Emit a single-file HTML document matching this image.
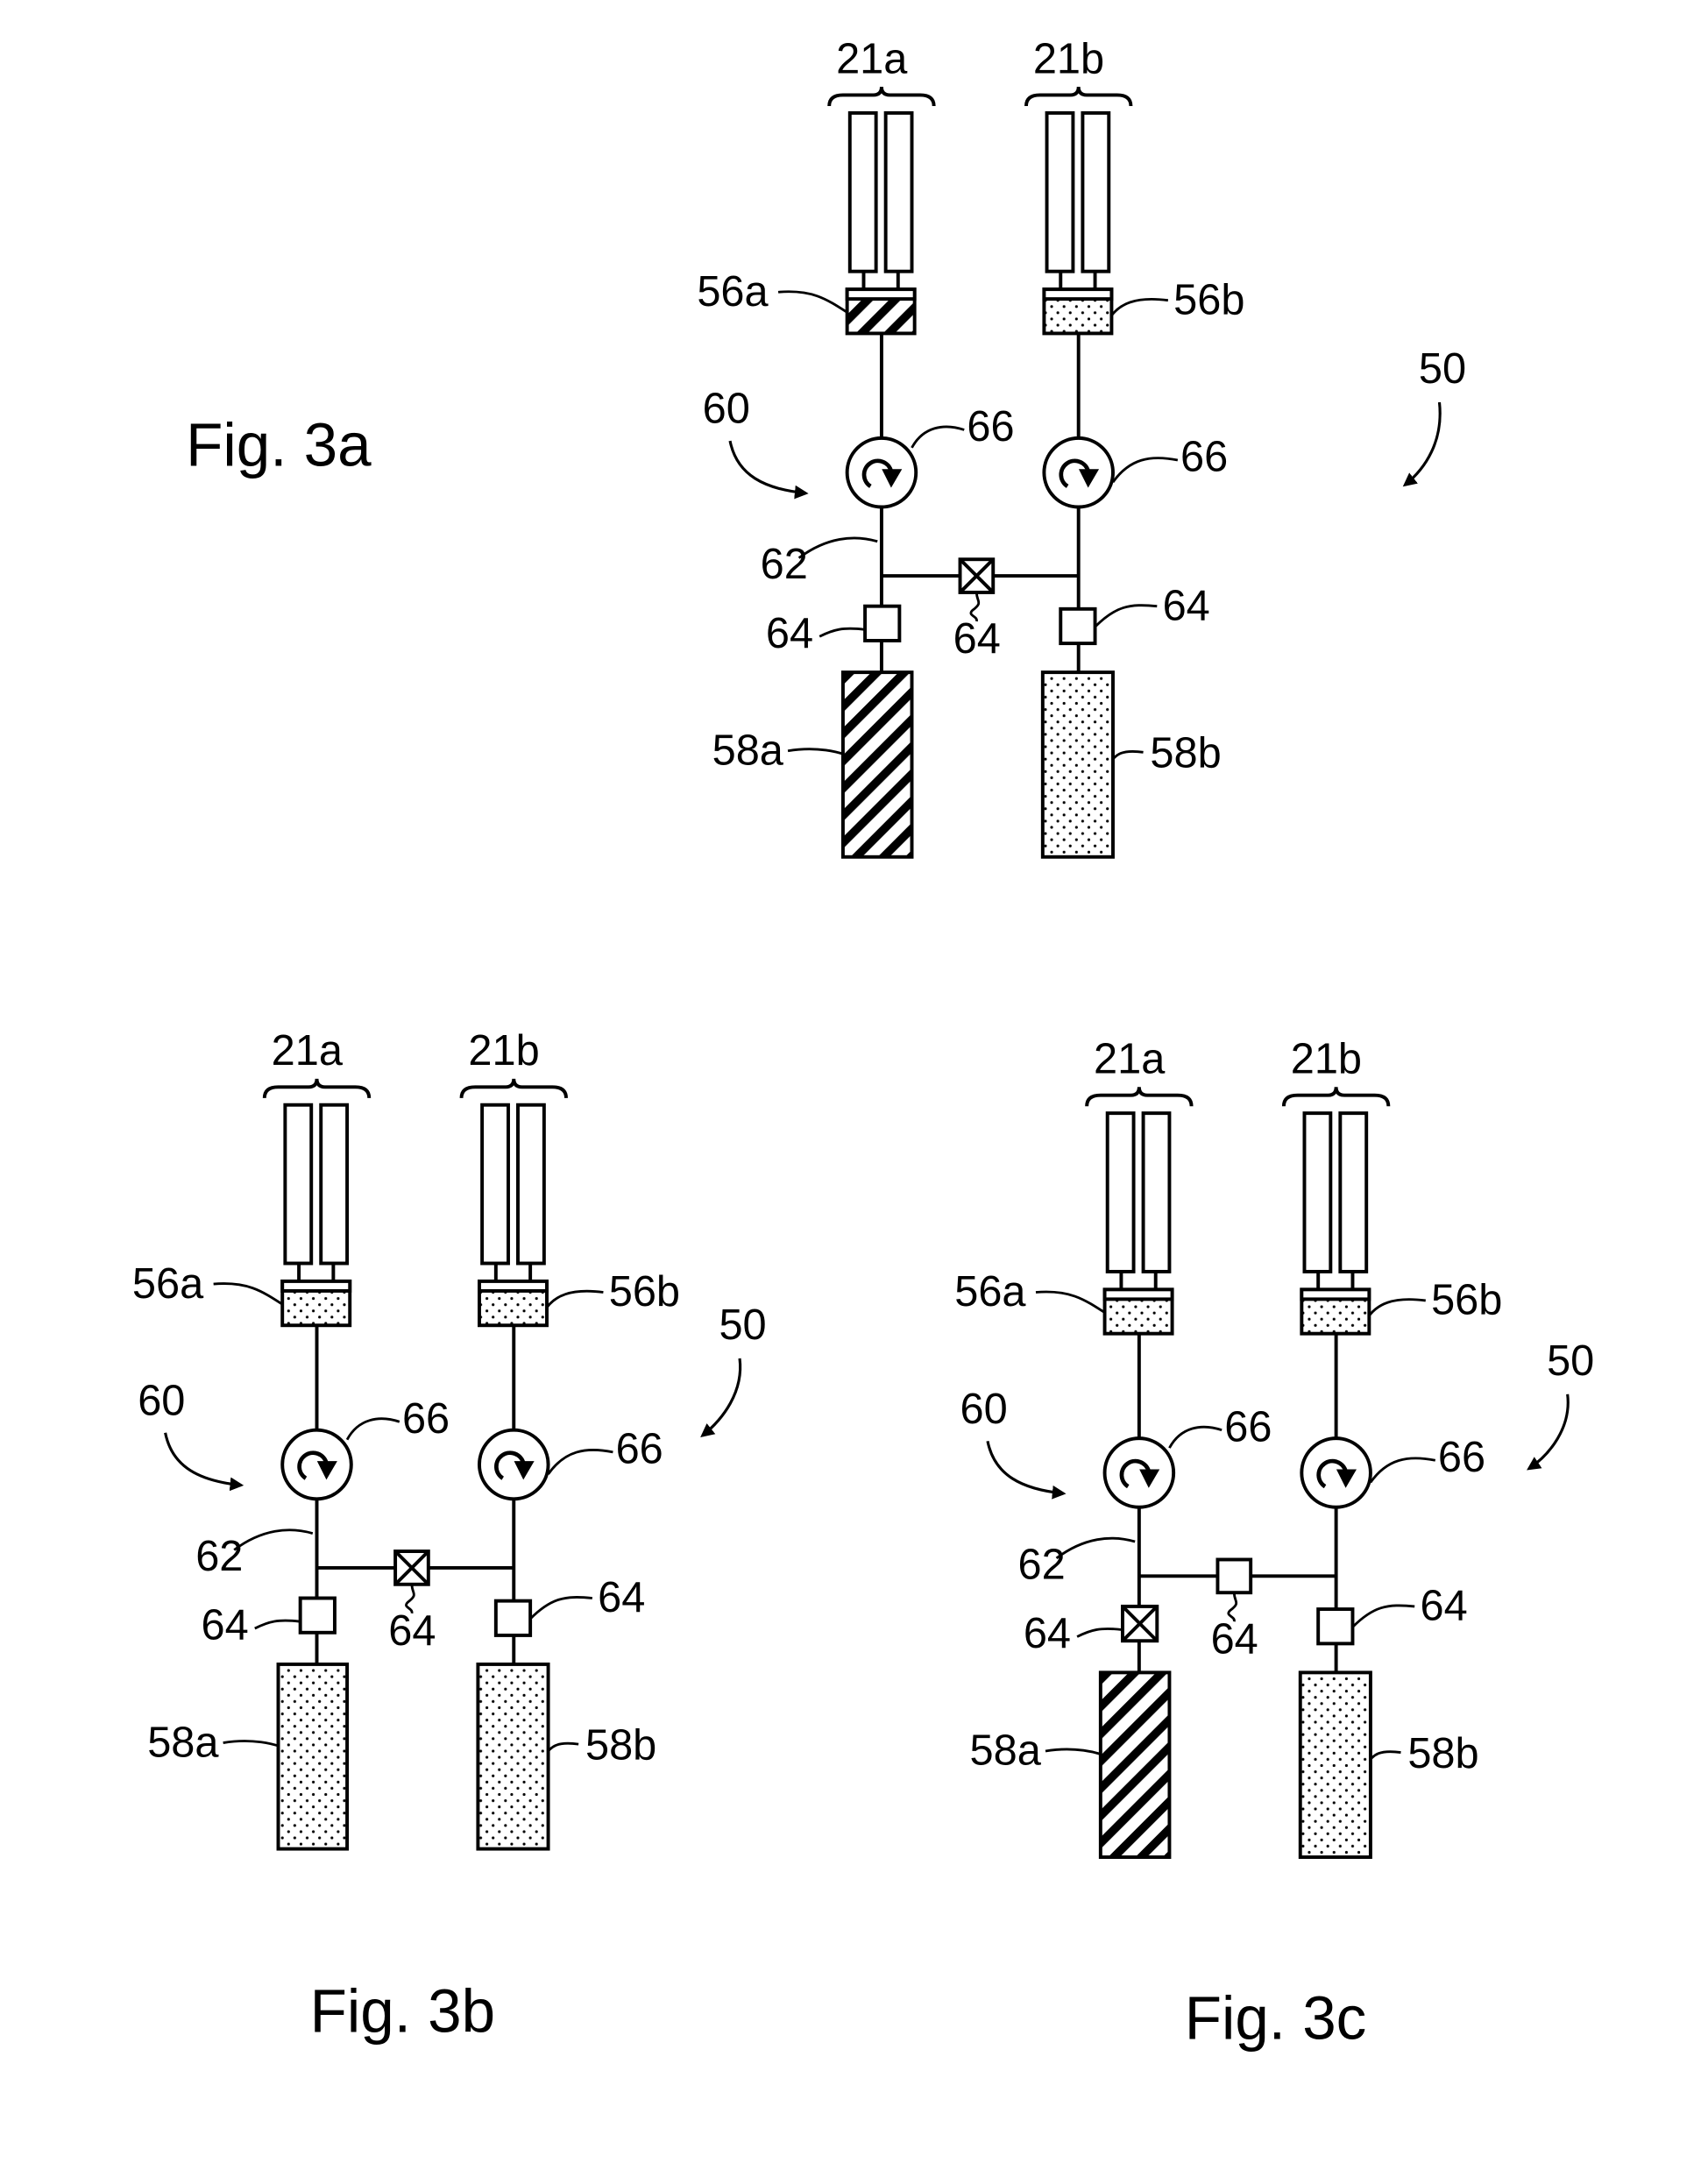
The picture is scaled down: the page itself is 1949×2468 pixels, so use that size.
<!DOCTYPE html>
<html><head><meta charset="utf-8"><style>
html,body{margin:0;padding:0;background:#fff;}
svg{display:block;}
text{font-family:"Liberation Sans",sans-serif;fill:#000;}
</style></head><body>
<svg width="1949" height="2468" viewBox="0 0 1240 1570" preserveAspectRatio="none" xmlns="http://www.w3.org/2000/svg">
<defs>
<pattern id="hatch" width="14" height="14" patternUnits="userSpaceOnUse" patternTransform="rotate(45)">
<rect width="14" height="14" fill="#fff"/><rect x="0" y="0" width="6" height="14" fill="#000"/>
</pattern>
<pattern id="dots" width="9" height="9" patternUnits="userSpaceOnUse">
<rect width="9" height="9" fill="#fff"/><circle cx="2" cy="2" r="1" fill="#000"/><circle cx="6.5" cy="6.5" r="1" fill="#000"/>
</pattern>
<marker id="ah" markerWidth="10" markerHeight="10" refX="8" refY="5" orient="auto" markerUnits="userSpaceOnUse">
<path d="M0,0 L10,5 L0,10 Z" fill="#000"/>
</marker>

<g id="base" stroke="#000" fill="none" stroke-width="2.5">
<path d="M-38,32 Q-38,24 -28,24 L-6,24 Q0,24 0,18 Q0,24 6,24 L28,24 Q38,24 38,32"/>
<path d="M105,32 Q105,24 115,24 L137,24 Q143,24 143,18 Q143,24 149,24 L171,24 Q181,24 181,32"/>
<rect x="-23" y="37" width="19" height="115"/><rect x="3" y="37" width="19" height="115"/>
<rect x="120" y="37" width="19" height="115"/><rect x="146" y="37" width="19" height="115"/>
<path d="M-13,152 V165 M12,152 V165 M130,152 V165 M155,152 V165"/>
<path d="M0,197 V273 M0,323 V395 M143,197 V273 M143,323 V397 M0,373 H143"/>
<circle cx="0" cy="298" r="25"/><circle cx="143" cy="298" r="25"/>
<path d="M-8,308 A10,10 0 1 1 7,297" stroke-width="3"/>
<path d="M135,308 A10,10 0 1 1 150,297" stroke-width="3"/>
<path d="M1,296 L14,296 L7,308 Z" fill="#000" stroke-width="1"/>
<path d="M144,296 L157,296 L150,308 Z" fill="#000" stroke-width="1"/>
<path d="M0,420 V443 M143,422 V443"/>
<path d="M-75,167 C-50,165 -40,172 -23,183" stroke-width="1.8"/>
<path d="M208,173 C185,170 172,175 165,187" stroke-width="1.8"/>
<path d="M60,267 C45,262 30,265 22,280" stroke-width="1.8"/>
<path d="M215,289 C195,285 180,288 168,305" stroke-width="1.8"/>
<path d="M-60,360 C-40,345 -20,343 -3,348" stroke-width="1.8"/>
<path d="M-45,417 C-35,412 -28,410 -12,412" stroke-width="1.8"/>
<path d="M200,395 C180,393 170,395 155,410" stroke-width="1.8"/>
<path d="M-68,500 C-50,497 -30,499 -15,508" stroke-width="1.8"/>
<path d="M190,501 C175,499 170,502 165,510" stroke-width="1.8"/>
<path d="M69,385 C69,392 74,392 66,398 C62,402 70,402 69,406" stroke-width="1.8"/>
<path d="M-110,275 C-105,300 -85,310 -55,313" stroke-width="2" marker-end="url(#ah)"/>
</g>
<g id="labels" font-size="31">
<text x="-33" y="8">21a</text>
<text x="110" y="8">21b</text>
<text x="-134" y="177">56a</text>
<text x="212" y="183">56b</text>
<text x="-130" y="262">60</text>
<text x="62" y="275">66</text>
<text x="217" y="297">66</text>
<text x="-88" y="375">62</text>
<text x="-84" y="425">64</text>
<text x="52" y="429">64</text>
<text x="204" y="405">64</text>
<text x="-123" y="510">58a</text>
<text x="195" y="512">58b</text>
</g>
</defs>

<g transform="translate(640,45)">
<use href="#base"/><use href="#labels"/>
<g stroke="#000" stroke-width="2.5">
<rect x="-25" y="165" width="49" height="32" fill="url(#hatch)"/><rect x="-25" y="165" width="49" height="7" fill="#fff"/>
<rect x="118" y="165" width="49" height="32" fill="url(#dots)"/><rect x="118" y="165" width="49" height="7" fill="#fff"/>
<rect x="-12" y="395" width="25" height="25" fill="#fff"/>
<rect x="57" y="361" width="24" height="24" fill="#fff"/><path d="M57,361 L81,385 M81,361 L57,385" fill="none"/>
<rect x="130" y="397" width="25" height="25" fill="#fff"/>
<rect x="-28" y="443" width="50" height="134" fill="url(#hatch)"/>
<rect x="117" y="443" width="51" height="134" fill="url(#dots)"/>
</g>
</g>
<text x="135" y="338" font-size="44">Fig. 3a</text>
<text x="1030" y="278" font-size="31">50</text>
<path d="M1045,292 C1048,320 1035,340 1020,352" stroke="#000" stroke-width="2" fill="none" marker-end="url(#ah)"/>

<g transform="translate(230,765)">
<use href="#base"/><use href="#labels"/>
<g stroke="#000" stroke-width="2.5">
<rect x="-25" y="165" width="49" height="32" fill="url(#dots)"/><rect x="-25" y="165" width="49" height="7" fill="#fff"/>
<rect x="118" y="165" width="49" height="32" fill="url(#dots)"/><rect x="118" y="165" width="49" height="7" fill="#fff"/>
<rect x="-12" y="395" width="25" height="25" fill="#fff"/>
<rect x="57" y="361" width="24" height="24" fill="#fff"/><path d="M57,361 L81,385 M81,361 L57,385" fill="none"/>
<rect x="130" y="397" width="25" height="25" fill="#fff"/>
<rect x="-28" y="443" width="50" height="134" fill="url(#dots)"/>
<rect x="117" y="443" width="51" height="134" fill="url(#dots)"/>
</g>
</g>
<text x="225" y="1475" font-size="44">Fig. 3b</text>
<text x="522" y="972" font-size="31">50</text>
<path d="M537,986 C540,1010 525,1030 510,1042" stroke="#000" stroke-width="2" fill="none" marker-end="url(#ah)"/>

<g transform="translate(827,771)">
<use href="#base"/><use href="#labels"/>
<g stroke="#000" stroke-width="2.5">
<rect x="-25" y="165" width="49" height="32" fill="url(#dots)"/><rect x="-25" y="165" width="49" height="7" fill="#fff"/>
<rect x="118" y="165" width="49" height="32" fill="url(#dots)"/><rect x="118" y="165" width="49" height="7" fill="#fff"/>
<rect x="-12" y="395" width="25" height="25" fill="#fff"/><path d="M-12,395 L13,420 M13,395 L-12,420" fill="none"/>
<rect x="57" y="361" width="24" height="24" fill="#fff"/>
<rect x="130" y="397" width="25" height="25" fill="#fff"/>
<rect x="-28" y="443" width="50" height="134" fill="url(#hatch)"/>
<rect x="117" y="443" width="51" height="134" fill="url(#dots)"/>
</g>
</g>
<text x="860" y="1480" font-size="44">Fig. 3c</text>
<text x="1123" y="998" font-size="31">50</text>
<path d="M1138,1012 C1141,1036 1125,1056 1110,1066" stroke="#000" stroke-width="2" fill="none" marker-end="url(#ah)"/>
</svg>
</body></html>
